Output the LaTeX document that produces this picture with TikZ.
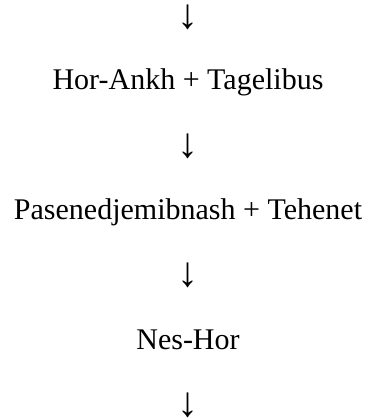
\documentclass[tikz,border=0pt]{standalone}
\usepackage{fontspec}
\setmainfont{Liberation Serif}
\begin{document}
\begin{tikzpicture}[x=1pt,y=1pt,
  lbl/.style={inner sep=0pt,anchor=base,font=\fontsize{30}{36}\selectfont},
  arr/.style={inner sep=0pt,anchor=center,font=\fontsize{42}{48}\selectfont}]
\useasboundingbox (0,0) rectangle (367,419);
\node[arr] (a1) at (188,419-17.5) {↓};
\node[lbl] (t1) at (188,419-89.5) {Hor-Ankh + Tagelibus};
\node[arr] (a2) at (188,419-146) {↓};
\node[lbl] (t2) at (188,419-219.5) {Pasenedjemibnash + Tehenet};
\node[arr] (a3) at (188,419-275.5) {↓};
\node[lbl] (t3) at (188,419-349.5) {Nes-Hor};
\node[arr] (a4) at (188,419-405) {↓};
\end{tikzpicture}
\end{document}
